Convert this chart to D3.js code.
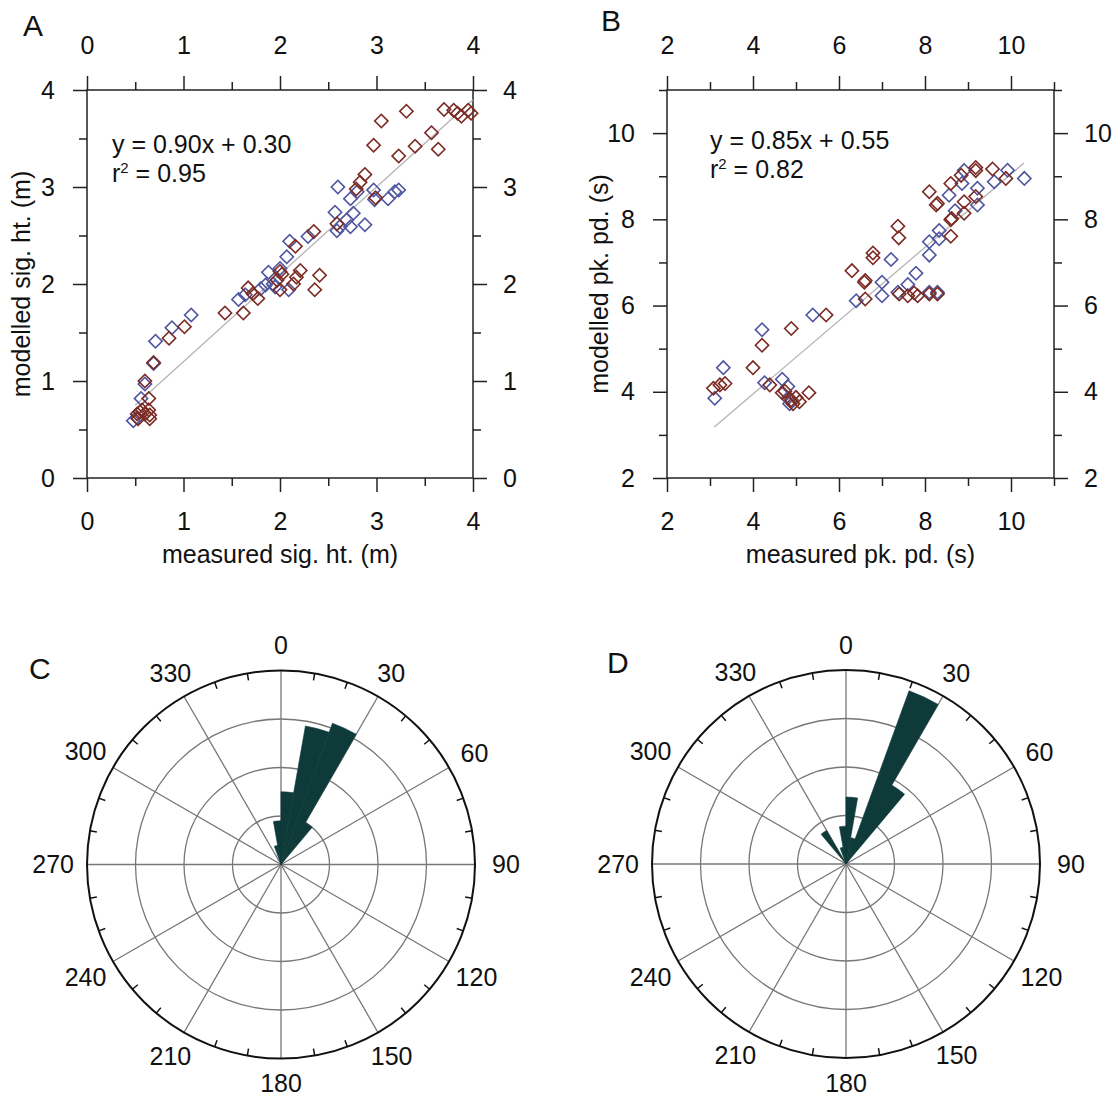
<!DOCTYPE html>
<html>
<head>
<meta charset="utf-8">
<script src="https://cdnjs.cloudflare.com/ajax/libs/d3/7.8.5/d3.min.js"></script>
<style>
  body { margin: 0; background: #fff; }
  svg { display: block; }
  text { font-family: "Liberation Sans", Arial, sans-serif; fill: #111; }
</style>
</head>
<body>
<div id="chart"></div>
<script>
// ---- data ----
// panel A: significant wave height (m), [measured, modelled]
const sigHtBlue = [
  [0.48,0.59],[0.52,0.62],[0.56,0.82],[0.60,0.97],[0.69,1.18],[0.71,1.41],[0.88,1.55],[1.08,1.68],
  [1.57,1.84],[1.64,1.89],[1.80,1.95],[1.85,1.99],[1.93,2.00],[1.88,2.12],[1.95,1.97],[2.00,2.16],
  [2.07,2.28],[2.09,1.94],[2.10,2.44],[2.29,2.49],[2.57,2.74],[2.60,3.00],[2.62,2.59],[2.59,2.55],
  [2.69,2.66],[2.73,2.88],[2.76,2.73],[2.73,2.59],[2.88,2.61],[2.80,2.95],[2.97,2.97],[2.98,2.87],
  [3.12,2.88],[3.19,2.95],[3.23,2.97]
];
const sigHtRed = [
  [0.52,0.66],[0.53,0.61],[0.55,0.68],[0.57,0.70],[0.60,0.66],[0.64,0.70],[0.65,0.65],[0.65,0.61],
  [0.64,0.82],[0.60,1.00],[0.69,1.19],[0.85,1.44],[1.01,1.56],[1.43,1.70],[1.62,1.70],[1.67,1.96],
  [1.72,1.90],[1.77,1.85],[1.97,2.04],[2.00,2.13],[2.02,2.10],[2.00,1.94],[2.14,2.00],[2.17,2.07],
  [2.21,2.14],[2.16,2.39],[2.35,2.54],[2.41,2.09],[2.36,1.94],[2.59,2.62],[2.79,2.98],[2.83,3.05],
  [2.88,3.13],[2.99,2.89],[2.97,3.43],[3.05,3.68],[3.23,3.32],[3.31,3.78],[3.40,3.42],[3.57,3.56],
  [3.64,3.39],[3.70,3.80],[3.80,3.79],[3.84,3.76],[3.88,3.73],[3.95,3.79],[3.98,3.76]
];
// panel B: peak period (s), [measured, modelled]
const pkPdBlue = [
  [3.11,3.85],[3.31,4.56],[4.21,5.44],[4.27,4.21],[4.68,4.29],[4.81,4.12],[4.81,3.85],[4.85,3.72],
  [5.39,5.78],[6.40,6.11],[7.00,6.54],[7.00,6.23],[7.21,7.07],[7.37,6.31],[7.60,6.49],[7.79,6.75],
  [8.10,6.31],[8.29,6.31],[8.10,7.48],[8.10,7.17],[8.33,7.74],[8.33,7.55],[8.56,8.56],[8.70,8.20],
  [8.86,8.83],[8.91,9.13],[9.22,8.33],[9.22,8.72],[9.61,8.87],[9.92,9.14],[10.31,8.95]
];
const pkPdRed = [
  [3.08,4.08],[3.23,4.16],[3.35,4.19],[4.00,4.56],[4.21,5.08],[4.39,4.16],[4.68,3.98],[4.74,4.01],
  [4.89,3.81],[5.00,3.87],[4.93,3.72],[5.08,3.77],[5.30,3.98],[4.89,5.47],[5.70,5.78],[6.30,6.81],
  [6.59,6.54],[6.61,6.58],[6.61,6.15],[6.79,7.22],[6.79,7.11],[7.37,7.84],[7.39,7.57],[7.40,6.27],
  [7.60,6.23],[7.75,6.29],[7.83,6.23],[8.10,6.27],[8.29,6.27],[8.10,8.64],[8.26,8.33],[8.29,8.37],
  [8.60,8.83],[8.60,7.99],[8.62,8.02],[8.60,7.61],[8.84,9.02],[8.91,8.41],[8.91,8.14],[9.18,9.13],
  [9.18,9.20],[9.18,8.53],[9.57,9.17],[9.88,8.95]
];
// regression lines: slope, intercept, x range
const fitA = { slope: 0.90, icpt: 0.30, from: 0.5, to: 4.0, eq: "y = 0.90x + 0.30", r2: "0.95" };
const fitB = { slope: 0.85, icpt: 0.55, from: 3.1, to: 10.3, eq: "y = 0.85x + 0.55", r2: "0.82" };

// panels C / D: direction bins (start angle, deg) and bar length (ring units)
const dirBinsC = [340, 350, 0, 10, 20, 30];
const dirValsC = [0.4, 0.9, 1.5, 2.9, 3.1, 1.0];
const dirBinsD = [320, 340, 350, 0, 10, 20, 30];
const dirValsD = [0.8, 0.35, 0.78, 1.38, 0.55, 3.8, 1.88];
const binWidth = 10;
const compassLabels = [0, 30, 60, 90, 120, 150, 180, 210, 240, 270, 300, 330];

const blue = "#4f56a0", red = "#7c2b24", barColor = "#0e3a3a";

const svg = d3.select("#chart").append("svg").attr("width", 1119).attr("height", 1101);

function scatterPanel(opt) {
  const x = d3.scaleLinear().domain(opt.xDom).range([opt.left, opt.right]);
  const y = d3.scaleLinear().domain(opt.yDom).range([opt.bottom, opt.top]);
  const g = svg.append("g");

  const axes = [
    { fn: d3.axisTop, sc: x, pos: `translate(0,${opt.top})`, pad: 22 },
    { fn: d3.axisBottom, sc: x, pos: `translate(0,${opt.bottom})`, pad: 20 },
    { fn: d3.axisLeft, sc: y, pos: `translate(${opt.left},0)`, pad: 18 },
    { fn: d3.axisRight, sc: y, pos: `translate(${opt.right},0)`, pad: 16 }
  ];
  axes.forEach(a => {
    const isX = a.sc === x;
    const major = isX ? opt.xMajor : opt.yMajor;
    const minor = isX ? opt.xMinor : opt.yMinor;
    g.append("g").attr("transform", a.pos)
      .call(a.fn(a.sc).tickValues(minor).tickSize(8).tickFormat(""))
      .call(s => s.select(".domain").remove());
    g.append("g").attr("transform", a.pos)
      .call(a.fn(a.sc).tickValues(major).tickSize(14).tickPadding(a.pad).tickFormat(d3.format("d")))
      .call(s => s.select(".domain").remove())
      .call(s => s.selectAll("text").style("font-size", "25px").attr("fill", "#111"));
  });
  g.selectAll(".tick line").attr("stroke", "#222").attr("stroke-width", 1.5);

  g.append("rect")
    .attr("x", opt.left).attr("y", opt.top)
    .attr("width", opt.right - opt.left).attr("height", opt.bottom - opt.top)
    .attr("fill", "none").attr("stroke", "#222").attr("stroke-width", 1.5);

  // fit line
  const f = opt.fit;
  g.append("line")
    .attr("x1", x(f.from)).attr("y1", y(f.slope * f.from + f.icpt))
    .attr("x2", x(f.to)).attr("y2", y(f.slope * f.to + f.icpt))
    .attr("stroke", "#b4b4b4").attr("stroke-width", 1.3);

  const sym = d3.symbol().type(d3.symbolSquare).size(88);
  [[opt.blue, blue], [opt.red, red]].forEach(([pts, col]) => {
    g.selectAll(null).data(pts).enter().append("path")
      .attr("d", sym)
      .attr("transform", d => `translate(${x(d[0])},${y(d[1])}) rotate(45)`)
      .attr("fill", "none").attr("stroke", col).attr("stroke-width", 1.6);
  });

  g.append("text").attr("x", opt.eqX).attr("y", opt.eqY).style("font-size", "25px").text(f.eq);
  const r2 = g.append("text").attr("x", opt.eqX).attr("y", opt.eqY + 29).style("font-size", "25px");
  r2.append("tspan").text("r");
  r2.append("tspan").attr("dy", -9).style("font-size", "15px").text("2");
  r2.append("tspan").attr("dy", 9).text(" = " + f.r2);

  g.append("text").attr("x", (opt.left + opt.right) / 2).attr("y", 563)
    .attr("text-anchor", "middle").style("font-size", "25px").text(opt.xTitle);
  g.append("text")
    .attr("transform", `translate(${opt.yTitleX},${(opt.top + opt.bottom) / 2}) rotate(-90)`)
    .attr("text-anchor", "middle").style("font-size", "25px").text(opt.yTitle);
}

scatterPanel({
  left: 87, right: 473, top: 90, bottom: 478,
  xDom: [0, 4], yDom: [0, 4],
  xMajor: [0, 1, 2, 3, 4], xMinor: [0.5, 1.5, 2.5, 3.5],
  yMajor: [0, 1, 2, 3, 4], yMinor: [0.5, 1.5, 2.5, 3.5],
  blue: sigHtBlue, red: sigHtRed, fit: fitA, eqX: 112, eqY: 153,
  xTitle: "measured sig. ht. (m)", yTitle: "modelled sig. ht. (m)", yTitleX: 30
});
scatterPanel({
  left: 667, right: 1054, top: 90, bottom: 478,
  xDom: [2, 11], yDom: [2, 11],
  xMajor: [2, 4, 6, 8, 10], xMinor: [3, 5, 7, 9, 11],
  yMajor: [2, 4, 6, 8, 10], yMinor: [3, 5, 7, 9, 11],
  blue: pkPdBlue, red: pkPdRed, fit: fitB, eqX: 710, eqY: 149,
  xTitle: "measured pk. pd. (s)", yTitle: "modelled pk. pd. (s)", yTitleX: 608
});

function rosePanel(cx, cy, R, bins, vals) {
  const g = svg.append("g").attr("transform", `translate(${cx},${cy})`);
  const r = d3.scaleLinear().domain([0, 4]).range([0, R]);
  const rad = d => d * Math.PI / 180;

  g.selectAll(".ring").data([1, 2, 3]).enter().append("circle")
    .attr("r", d => r(d)).attr("fill", "none").attr("stroke", "#777").attr("stroke-width", 1.3);
  g.selectAll(".spoke").data(d3.range(0, 360, 30)).enter().append("line")
    .attr("x2", d => r(4) * Math.sin(rad(d))).attr("y2", d => -r(4) * Math.cos(rad(d)))
    .attr("stroke", "#777").attr("stroke-width", 1.3);

  const arc = d3.arc().innerRadius(0);
  g.selectAll(".bar").data(bins.map((b, i) => ({ b: b, v: vals[i] }))).enter().append("path")
    .attr("d", d => arc({ outerRadius: r(d.v), startAngle: rad(d.b), endAngle: rad(d.b + binWidth) }))
    .attr("fill", barColor).attr("stroke", barColor).attr("stroke-width", 0.6);

  g.append("circle").attr("r", r(4)).attr("fill", "none").attr("stroke", "#111").attr("stroke-width", 2);
  g.selectAll(".tk").data(d3.range(0, 360, 10).filter(d => d % 30 !== 0)).enter().append("line")
    .attr("x1", d => r(4) * Math.sin(rad(d))).attr("y1", d => -r(4) * Math.cos(rad(d)))
    .attr("x2", d => (r(4) - 7) * Math.sin(rad(d))).attr("y2", d => -(r(4) - 7) * Math.cos(rad(d)))
    .attr("stroke", "#111").attr("stroke-width", 1.5);

  g.selectAll(".lbl").data(compassLabels).enter().append("text")
    .attr("text-anchor", "middle").attr("dy", "0.35em").style("font-size", "25px")
    .each(function (d) {
      const s = Math.sin(rad(d));
      const w = String(d).length * 13.5;
      const rr = R + 25 + s * s * w * 0.22;
      d3.select(this).attr("x", rr * s).attr("y", -rr * Math.cos(rad(d)));
    })
    .text(d => d);
}

rosePanel(281, 864.5, 194, dirBinsC, dirValsC);
rosePanel(846, 864, 194, dirBinsD, dirValsD);

// panel letters
[["A", 23, 36], ["B", 601, 31], ["C", 29, 679], ["D", 607, 673]].forEach(([t, px, py]) => {
  svg.append("text").attr("x", px).attr("y", py).style("font-size", "30px").text(t);
});
</script>
</body>
</html>
